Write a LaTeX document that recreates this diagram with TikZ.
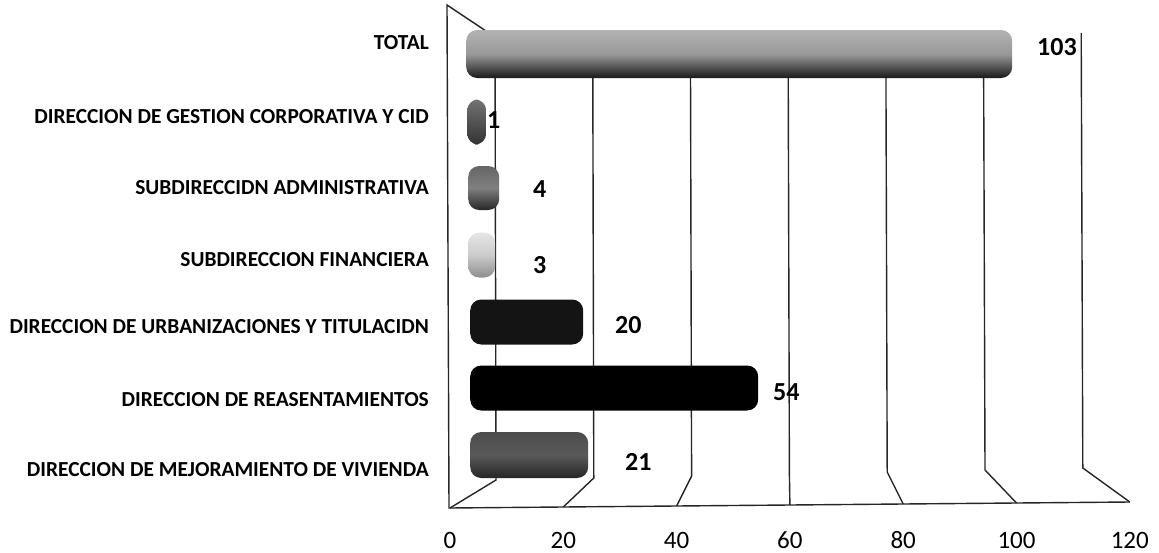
\documentclass[tikz,border=0pt]{standalone}
\usepackage{fontspec}
\setmainfont{Carlito}
\usetikzlibrary{positioning}

\tikzset{
  gridline/.style={draw=black!85, line width=1.4pt},
  bar/.style={rounded corners=11pt, inner sep=0pt, anchor=west},
  catlabel/.style={anchor=east, inner sep=0pt, font=\bfseries\fontsize{21.4}{23}\selectfont},
  vallabel/.style={anchor=west, inner sep=0pt, font=\bfseries\fontsize{26}{28}\selectfont},
  ticklabel/.style={anchor=base, inner sep=0pt, font=\fontsize{25}{27}\selectfont}
}

\begin{document}
\begin{tikzpicture}[x=1pt, y=-1pt]
    \useasboundingbox (0,0) rectangle (1159,552);

    % Walls and floor
    \coordinate (wtop) at (447,5);
    \coordinate (wbot) at (449,508);
    \foreach \i [evaluate=\i as \v using int(20*\i)] in {0,...,6} {
        \coordinate (t\i) at ({495+97.7*\i},{37-0.7*\i});
        \coordinate (b\i) at ({496+97.8*\i},{480-2*\i});
        \coordinate (f\i) at ({450+113.3*\i},{508-1*\i});
        \draw[gridline] (t\i) -- (b\i) -- (f\i);
        \node[ticklabel] (tick\i) at ({450+113.3*\i},548) {\v};
    }
    \draw[gridline] (t0) -- (wtop) -- (wbot) -- (f6);

    % Bars
    \node[bar, top color=black!30, bottom color=black!90, middle color=black!40, minimum width=546, minimum height=48] (btotal) at (466,54) {};
    \node[bar, top color=black!55, bottom color=black!80, minimum width=19, minimum height=45] (bcid) at (467,122) {};
    \node[bar, top color=black!60, bottom color=black!85, middle color=black!50, minimum width=31, minimum height=44] (badmin) at (468,188) {};
    \node[bar, top color=black!10, bottom color=black!45, middle color=black!20, minimum width=27, minimum height=45] (bfin) at (468,255) {};
    \node[bar, fill=black!92, minimum width=113, minimum height=45] (burb) at (470,322) {};
    \node[bar, fill=black, minimum width=288, minimum height=45] (breas) at (470,388) {};
    \node[bar, top color=black!70, bottom color=black!85, middle color=black!65, minimum width=118, minimum height=46] (bviv) at (470,455) {};

    % Values
    \node[vallabel] (vtotal) at (1037,47) {103};
    \node[vallabel] (vcid) at (487,120) {1};
    \node[vallabel] (vadmin) at (533,189) {4};
    \node[vallabel] (vfin) at (533,265) {3};
    \node[vallabel] (vurb) at (615,325) {20};
    \node[vallabel] (vreas) at (773,392) {54};
    \node[vallabel] (vviv) at (625,462) {21};

    % Categories
    \node[catlabel] (ctotal) at (429,43) {TOTAL};
    \node[catlabel] (ccid) at (429,117) {DIRECCION DE GESTION CORPORATIVA Y CID};
    \node[catlabel] (cadmin) at (429,188) {SUBDIRECCIDN ADMINISTRATIVA};
    \node[catlabel] (cfin) at (429,260) {SUBDIRECCION FINANCIERA};
    \node[catlabel] (curb) at (429,327) {DIRECCION DE URBANIZACIONES Y TITULACIDN};
    \node[catlabel] (creas) at (429,400) {DIRECCION DE REASENTAMIENTOS};
    \node[catlabel] (cviv) at (429,470) {DIRECCION DE MEJORAMIENTO DE VIVIENDA};
\end{tikzpicture}
\end{document}
